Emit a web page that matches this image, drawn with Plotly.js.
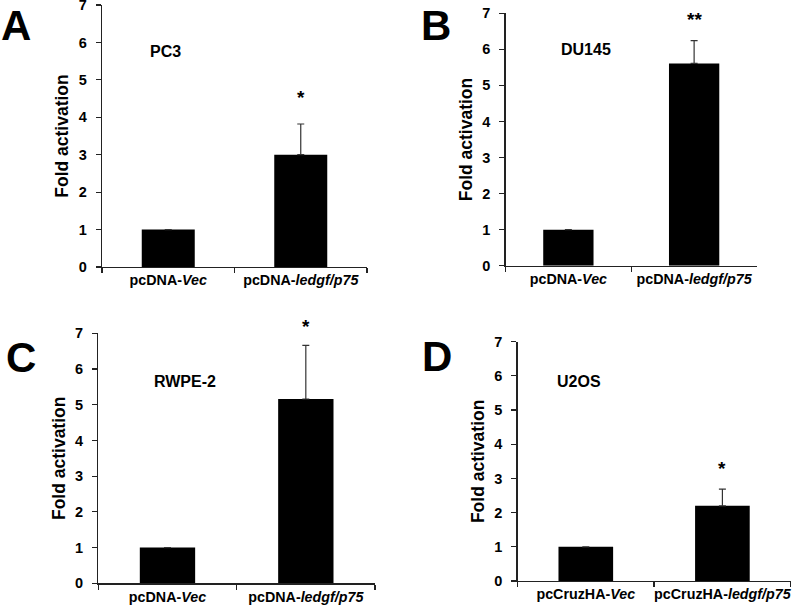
<!DOCTYPE html>
<html>
<head>
<meta charset="utf-8">
<script src="https://cdn.plot.ly/plotly-3.0.1.min.js"></script>
<style>html,body{margin:0;padding:0;background:#fff;}#chart{width:794px;height:607px;}</style>
</head>
<body>
<div id="chart"></div>
<script>
// ---- data ----
const panelLetters = ['A', 'B', 'C', 'D'];
const cellLines = ['PC3', 'DU145', 'RWPE-2', 'U2OS'];
const categoriesDNA = ['pcDNA-<i>Vec</i>', 'pcDNA-<i>ledgf/p75</i>'];
const categoriesCruz = ['pcCruzHA-<i>Vec</i>', 'pcCruzHA-<i>ledgf/p75</i>'];
const valuesA = [1, 3.0];
const valuesB = [1, 5.61];
const valuesC = [1, 5.16];
const valuesD = [1, 2.2];
const errorsA = [0, 0.82];
const errorsB = [0, 0.63];
const errorsC = [0, 1.5];
const errorsD = [0, 0.49];
const significance = ['*', '**', '*', '*'];
const significanceY = [4.6, 6.9, 7.28, 3.39];
const yTickVals = [0, 1, 2, 3, 4, 5, 6, 7];
const yRange = [0, 7];
const yTitle = 'Fold activation';

// ---- layout helpers ----
const FONT = 'Liberation Sans, Arial, sans-serif';
const W = 794, H = 607;
// pixel boxes for the four plot areas [left, right, top, bottom]
const boxes = [
  [102, 367, 5, 267],
  [505.5, 757, 13.3, 265.7],
  [98.3, 375, 333.3, 583.3],
  [517.5, 790.7, 341.7, 581]
];
const cats = [categoriesDNA, categoriesDNA, categoriesDNA, categoriesCruz];
const vals = [valuesA, valuesB, valuesC, valuesD];
const errs = [errorsA, errorsB, errorsC, errorsD];
// [x px, y px, anchor]
const letterPos = [[16, 0, 'top'], [436.5, 0, 'top'], [21, 357, 'middle'], [437, 356.7, 'middle']];
const linePos = [[-0.02, 5.77], [0.14, 6.01], [0.13, 5.66], [-0.05, 5.85]];

const data = [];
const layout = {
  width: W, height: H,
  margin: {l: 0, r: 0, t: 0, b: 0},
  paper_bgcolor: '#fff', plot_bgcolor: '#fff',
  showlegend: false,
  font: {family: FONT, color: '#000'},
  annotations: []
};

for (let i = 0; i < 4; i++) {
  const sfx = i === 0 ? '' : String(i + 1);
  const b = boxes[i];
  data.push({
    type: 'bar',
    x: cats[i],
    y: vals[i],
    xaxis: 'x' + sfx,
    yaxis: 'y' + sfx,
    width: 0.4,
    marker: {color: '#000', line: {width: 0}},
    error_y: {type: 'data', symmetric: false, array: errs[i], arrayminus: [0, 0],
              color: '#333', thickness: 1.2, width: 3.5},
    hoverinfo: 'x+y'
  });
  layout['xaxis' + sfx] = {
    domain: [b[0] / W, b[1] / W],
    anchor: 'y' + sfx,
    type: 'category',
    showline: true, linecolor: '#222', linewidth: 1.3,
    ticks: 'outside', ticklen: 5, tickwidth: 1.2, tickcolor: '#222',
    tickson: 'boundaries',
    tickangle: 0,
    ticklabeloverflow: 'allow',
    showgrid: false, zeroline: false,
    tickfont: {family: FONT, size: 14.3, color: '#000', weight: 'bold'},
    range: [-0.5, 1.5]
  };
  layout['yaxis' + sfx] = {
    domain: [1 - b[3] / H, 1 - b[2] / H],
    anchor: 'x' + sfx,
    range: yRange,
    tickvals: yTickVals,
    ticklabeloverflow: 'allow',
    ticklabelstandoff: 6,
    showline: true, linecolor: '#222', linewidth: 1.3,
    ticks: 'outside', ticklen: 5, tickwidth: 1.2, tickcolor: '#222',
    showgrid: false, zeroline: false,
    tickfont: {family: FONT, size: 14.5, color: '#000', weight: 'bold'},
    title: {text: yTitle, standoff: 5, font: {family: FONT, size: 17.5, color: '#000', weight: 'bold'}}
  };
  // panel letter
  layout.annotations.push({
    xref: 'paper', yref: 'paper',
    x: letterPos[i][0] / W, y: 1 - letterPos[i][1] / H,
    xanchor: 'center', yanchor: letterPos[i][2], showarrow: false,
    text: '<b>' + panelLetters[i] + '</b>',
    font: {family: FONT, size: 42, color: '#000'}
  });
  // cell line label
  layout.annotations.push({
    xref: 'x' + sfx, yref: 'y' + sfx,
    x: linePos[i][0], y: linePos[i][1],
    xanchor: 'center', yanchor: 'middle', showarrow: false,
    text: '<b>' + cellLines[i] + '</b>',
    font: {family: FONT, size: 16, color: '#000'}
  });
  // significance stars (domain reference so a star above the axis range still shows)
  layout.annotations.push({
    xref: 'x' + sfx, yref: 'y' + sfx + ' domain',
    x: cats[i][1], y: (significanceY[i] - yRange[0]) / (yRange[1] - yRange[0]),
    xanchor: 'center', yanchor: 'middle', showarrow: false, yshift: -3,
    text: '<b>' + significance[i] + '</b>',
    font: {family: FONT, size: 19, color: '#000'}
  });
}

Plotly.newPlot('chart', data, layout, {displayModeBar: false, staticPlot: true});
</script>
</body>
</html>
